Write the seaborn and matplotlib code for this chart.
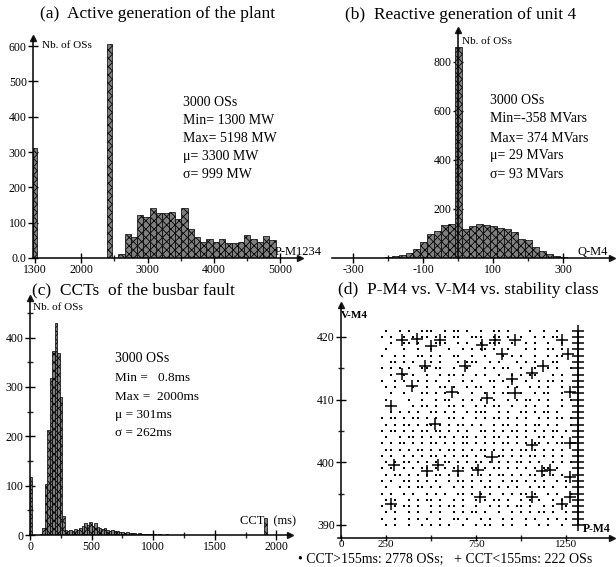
import numpy as np
import pandas as pd
import matplotlib
matplotlib.use("Agg")
import matplotlib.pyplot as plt
import seaborn as sns

# ---------------- data ----------------
# (a) active generation of the plant (MW)
pa_spike_mw = [1300, 2420]
pa_spike_count = [312, 605]
pa_hist_mw = [2605, 2700, 2795, 2890, 2985, 3080, 3175, 3270, 3365, 3460, 3555, 3650,
              3745, 3840, 3935, 4030, 4125, 4220, 4315, 4410, 4505, 4600, 4695, 4790, 4885]
pa_hist_count = [11, 68, 60, 123, 117, 141, 127, 127, 129, 110, 141, 83,
                 60, 46, 55, 46, 53, 42, 42, 44, 66, 53, 46, 62, 51]

# (b) reactive generation of unit 4 (MVars)
qb_mvar = [-220, -200, -180, -160, -140, -120, -100, -80, -60, -40, -20, 0, 20, 40,
           60, 80, 100, 120, 140, 160, 180, 200, 220, 240, 260, 280, 300, 320]
qb_count = [2, 4, 8, 12, 20, 35, 65, 96, 111, 133, 139, 860, 118, 130,
            139, 134, 130, 124, 120, 108, 77, 73, 44, 29, 16, 9, 4, 2]

# (c) CCTs of the busbar fault, 20 ms classes from 0 to 2000 ms
cct_count = [118, 0, 0, 0, 2, 15, 103, 213, 317, 373,
             430, 368, 280, 38, 10, 8, 10, 8, 12, 10,
             14, 18, 24, 20, 26, 18, 24, 16, 14, 12,
             14, 10, 9, 11, 8, 9, 6, 7, 5, 6,
             4, 5, 4, 3, 4, 3, 2, 3, 2, 2,
             2, 1, 2, 1, 1, 2, 1, 1, 0, 1,
             1, 0, 1, 1, 0, 1, 0, 1, 0, 1,
             0, 1, 0, 1, 0, 0, 1, 0, 0, 1,
             0, 0, 1, 0, 0, 0, 1, 0, 0, 0,
             0, 0, 0, 0, 0, 35, 0, 0, 0, 0]
cct_class_ms = 20

# (d) P-M4 vs V-M4: stable OSs on a 25 MW grid starting at 225 MW, one row per kV
d_p_start, d_p_step = 225, 25
stable_rows = {
    421: " .  . .  ...  . .. .  .  .. .    .  .  .   ",
    420: ". .  . . .. . . ..  ...  .. .  .  . . ..   ",
    419: "  .  .. .   ...  . .  . ...  .  . .  .  .  ",
    418: " .   .  .  .   .  . . .. .  .   . .  .. .  ",
    417: ".  . .  .. . .  ..  .  .   . . .  .  . ..  ",
    416: "  .. . .   . .   . ...  . .   . . .   ..   ",
    415: ". . . .  .. ..  .  .   . . ..  .  .  . .  .",
    414: "  .  . .  .  . .. .  . .  .  . . ..   . .  ",
    413: ".  . .  . . .  .  . .   .. . .  .  . .. .  ",
    412: " . .   .  .  .. .  . ..  .  . .  . . .  .  ",
    411: "  .  .   .. . .  .  .  . . ..  .  . ..  .  ",
    410: " .    .  .  . ..  . . .  .  . . .. . .  . .",
    409: "       . .. .  .. .  . . ..  .  . .  .  .  ",
    408: "  . . . .  .. . .  . ...  . .  .. . .. .  ",
    407: ". .. . .. . .  .. .  . . .. . . .  . . .. .",
    406: " . . .. . .. . . .. . .  . .. . . .. . .  .",
    405: ". .. . . .. .. . . .  .. . . .. . . . .. . ",
    404: " .  . .. . . .. . .. . . .. . . .  .. . .  ",
    403: ". . .. . . .. . . .. . . . .. . . .. . .. .",
    402: " .. . . .. . . .. . . .. . . . .. . . . .  ",
    401: ". .  . . . .. . . .. . .  .. . . .. . . .  ",
    400: " . . .. . . . .. . . .. . . . .. . .  . . .",
    399: ". .  . . .. . . . . .. . .. . . . . .. .   ",
    398: " . .. . . . .. . .  . . . .. . . .. . . .  ",
    397: ". .  .. . . .  . .. . . .  . .. . . .  . . ",
    396: " .  . . .. . .  . . .  .. . . .  . .. .  . ",
    395: ". .  . .  . . .  .. . . .  . . .. .  . .  .",
    394: " . .  . . .. .  . .  . . .. .  . . .  . .  ",
    393: ".  . .. .  . . .. .  .  . . . .. .  . .  . ",
    392: " . .  . .  . .  . . .. .  .  . . . .. .  . ",
    391: ".  .  . . .  .  .. .  . .  . .  . .  . . . ",
    390: " . .  .  . . . .  .  . ..  . .  .  . .  .  ",
}
unstable_p = [337, 420, 500, 550, 782, 855, 967, 893, 1226, 1262,
              337, 467, 689, 1122, 1059, 948, 393, 615, 809, 967, 1272, 278,
              522, 1272, 1059, 837, 296, 541, 476, 652, 763, 1115, 1161, 1272,
              278, 772, 1059, 1226, 1272]
unstable_v = [419.5, 419.6, 418.6, 419.5, 418.7, 419.5, 419.5, 417.3, 419.5, 417.3,
              414.1, 415.4, 415.4, 415.4, 414.3, 413.3, 412.2, 411.2, 410.3, 411.1, 411.2, 409.0,
              406.1, 403.1, 402.8, 400.8, 399.6, 399.6, 398.6, 398.6, 398.7, 398.6, 398.7, 397.7,
              393.4, 394.5, 394.5, 393.4, 394.5]
edge_column_p = 1315
edge_column_v = [390, 391, 392, 393, 394, 395, 396, 397, 398, 399, 400, 401, 402, 403, 404, 405,
                 406, 407, 408, 409, 410, 411, 412, 413, 414, 415, 416, 417, 418, 419, 420, 421]

# ---------------- style ----------------
sns.set_theme(style="white")
plt.rcParams["font.family"] = ["Liberation Serif", "DejaVu Serif"]
plt.rcParams["axes.unicode_minus"] = False
plt.rcParams["hatch.linewidth"] = 0.6
plt.rcParams["hatch.color"] = "black"

W, H = 616, 567
fig = plt.figure(figsize=(W / 100, H / 100), dpi=100)
fig.patch.set_facecolor("white")


def add_ax(l, r, t, b):
    return fig.add_axes([l / W, (H - b) / H, (r - l) / W, (b - t) / H])


def ftxt(x, y, s, size=10, **kw):
    fig.text(x / W, 1 - y / H, s, fontsize=size, va="center", ha="left", color="black", **kw)


def style_axes(ax):
    ax.set_facecolor("none")
    for s in ["top", "right"]:
        ax.spines[s].set_visible(False)
    for s in ["left", "bottom"]:
        ax.spines[s].set_color("black")
        ax.spines[s].set_linewidth(1.1)
    ax.tick_params(which="major", direction="inout", length=7, width=1, labelsize=8.5,
                   colors="black", pad=1, left=True, bottom=True)
    ax.tick_params(which="minor", direction="inout", length=5, width=1, left=True, bottom=True)
    ax.set_xlabel("")
    ax.set_ylabel("")
    ax.grid(False)


def arrows(ax, yaxis_x=None):
    ax.plot(1, 0, marker=">", color="k", ms=4, transform=ax.transAxes, clip_on=False)
    if yaxis_x is None:
        ax.plot(0, 1, marker="^", color="k", ms=4, transform=ax.transAxes, clip_on=False)
    else:
        ax.plot(yaxis_x, 1, marker="^", color="k", ms=4, transform=ax.get_xaxis_transform(),
                clip_on=False)


def hatch_bars(ax):
    for p in ax.patches:
        p.set_hatch("xxxx")
        p.set_edgecolor("black")
        p.set_linewidth(0.5)


def edges_from(centers, widths):
    e = set()
    for c, w in zip(centers, widths):
        e.add(c - w / 2)
        e.add(c + w / 2)
    return sorted(e)


bar_face = "#7f7f7f"

# ---------------- (a) ----------------
axa = add_ax(33, 300, 38, 258)
xa = pa_spike_mw + pa_hist_mw
wa = pa_spike_count + pa_hist_count
widths_a = [60, 70] + [95] * len(pa_hist_mw)
sns.histplot(x=xa, weights=wa, bins=edges_from(xa, widths_a), ax=axa, color=bar_face,
             alpha=1, edgecolor="black", linewidth=0.5)
hatch_bars(axa)
axa.set_xlim(1270, 5300)
axa.set_ylim(0, 623)
style_axes(axa)
axa.set_xticks([1300, 2000, 3000, 4000, 5000])
axa.set_xticks([2500, 3500, 4500], minor=True)
axa.set_yticks([0, 100, 200, 300, 400, 500, 600])
axa.set_yticklabels(["0.0", "100", "200", "300", "400", "500", "600"])
arrows(axa)

# ---------------- (b) ----------------
axb = add_ax(332, 612, 30, 258)
sns.histplot(x=qb_mvar, weights=qb_count, bins=edges_from(qb_mvar, [20] * len(qb_mvar)),
             ax=axb, color=bar_face, alpha=1, edgecolor="black", linewidth=0.5)
hatch_bars(axb)
axb.set_xlim(-360, 440)
axb.set_ylim(0, 930)
style_axes(axb)
axb.spines["left"].set_position(("data", 0))
axb.set_xticks([-300, -100, 100, 300])
axb.set_xticks([-200, 0, 200], minor=True)
axb.set_yticks([200, 400, 600, 800])
arrows(axb, yaxis_x=0)

# ---------------- (c) ----------------
axc = add_ax(30, 290, 298, 535)
cct_mid = [cct_class_ms * (i + 0.5) for i in range(len(cct_count))]
sns.histplot(x=cct_mid, weights=cct_count,
             bins=[cct_class_ms * i for i in range(len(cct_count) + 1)],
             ax=axc, color=bar_face, alpha=1, edgecolor="black", linewidth=0.5)
hatch_bars(axc)
axc.set_xlim(0, 2110)
axc.set_ylim(0, 480)
style_axes(axc)
axc.set_xticks([0, 500, 1000, 1500, 2000])
axc.set_xticks([250, 750, 1250, 1750], minor=True)
axc.set_yticks([0, 100, 200, 300, 400])
axc.set_yticks([50, 150, 250, 350, 450], minor=True)
arrows(axc)

# ---------------- (d) ----------------
axd = add_ax(338, 612, 305, 538)
sp, sv = [], []
for v, row in stable_rows.items():
    for i, ch in enumerate(row):
        if ch == ".":
            sp.append(d_p_start + d_p_step * i)
            sv.append(v)
df_s = pd.DataFrame({"P": sp, "V": sv})
df_u = pd.DataFrame({"P": unstable_p + [edge_column_p] * len(edge_column_v),
                     "V": unstable_v + edge_column_v})
sns.scatterplot(data=df_s, x="P", y="V", ax=axd, marker="s", s=4, color="black",
                linewidth=0, legend=False)
sns.scatterplot(data=df_u, x="P", y="V", ax=axd, marker="+", s=70, color="black",
                linewidth=1.1, legend=False)
axd.set_xlim(-17, 1505)
axd.set_ylim(387.9, 425.1)
style_axes(axd)
axd.spines["left"].set_position(("data", 0))
axd.set_xticks([0, 250, 750, 1250])
axd.set_xticks([500, 1000], minor=True)
axd.set_yticks([390, 400, 410, 420])
axd.set_yticks([395, 405, 415], minor=True)
axd.tick_params(axis="x", which="major", length=5, pad=-1, labelsize=8)
axd.tick_params(axis="x", which="minor", length=4)
arrows(axd, yaxis_x=0)

# ---------------- texts ----------------
ftxt(40, 14, "(a)  Active generation of the plant", 12.5)
ftxt(345, 15, "(b)  Reactive generation of unit 4", 12.5)
ftxt(32, 290, "(c)  CCTs  of the busbar fault", 12.5)
ftxt(338, 290, "(d)  P-M4 vs. V-M4 vs. stability class", 12.5)

for y, s in zip([102, 121, 139, 157, 175],
                ["3000 OSs", "Min= 1300 MW", "Max= 5198 MW", "\u03bc= 3300 MW", "\u03c3= 999 MW"]):
    ftxt(183, y, s, 10)
for y, s in zip([100, 119, 138, 156, 174],
                ["3000 OSs", "Min=-358 MVars", "Max= 374 MVars", "\u03bc= 29 MVars", "\u03c3= 93 MVars"]):
    ftxt(490, y, s, 10)
for y, s in zip([358, 378, 397, 415, 433],
                ["3000 OSs", "Min =   0.8ms", "Max =  2000ms", "\u03bc = 301ms", "\u03c3 = 262ms"]):
    ftxt(115, y, s, 10 if s.startswith("3000") else 9.5)

ftxt(42, 45, "Nb. of OSs", 8)
ftxt(462, 41, "Nb. of OSs", 8)
ftxt(33, 308, "Nb. of OSs", 8)
ftxt(341, 316, "V-M4", 8, fontweight="bold")
ftxt(275, 252, "P-M1234", 9)
ftxt(578, 252, "Q-M4", 9)
ftxt(240, 521, "CCT   (ms)", 9)
ftxt(583, 529, "P-M4", 8.5, fontweight="bold")
ftxt(298, 559.5, "\u2022 CCT>155ms: 2778 OSs;   + CCT<155ms: 222 OSs", 10)

fig.savefig("out.png", dpi=100, facecolor="white")
